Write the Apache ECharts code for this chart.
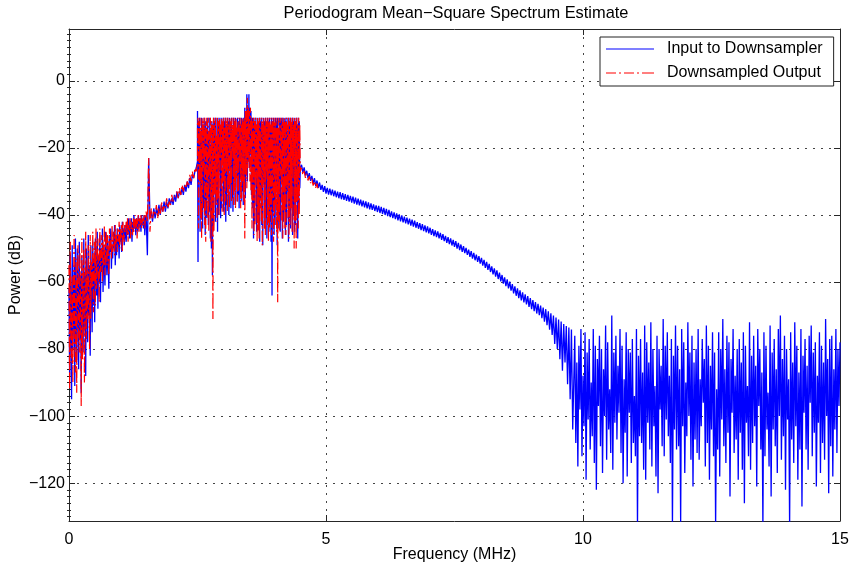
<!DOCTYPE html>
<html><head><meta charset="utf-8">
<script src="https://cdn.jsdelivr.net/npm/echarts@6/dist/echarts.min.js"></script>
<style>html,body{margin:0;padding:0;background:#fff}#c{width:850px;height:568px}</style>
</head><body><div id="c"></div>
<script>
const FONT = "'Liberation Sans', Arial, Helvetica, sans-serif";
const titleText = 'Periodogram Mean\u2212Square Spectrum Estimate';
const xName = 'Frequency (MHz)';
const yName = 'Power (dB)';
const seriesNames = ['Input to Downsampler', 'Downsampled Output'];
const X_MIN = 0, X_MAX = 15, X_STEP = 5;
const Y_MIN = -131.3, Y_MAX = 15.5;
const yTicks = [-120, -100, -80, -60, -40, -20, 0];

// ---- Blue: Input to Downsampler (dB values; each segment = start MHz, step MHz, values) ----
const blueLow = [ // 0 .. 1.5 MHz, step 0.0125
-62,-88,-52,-71,-95,-49,-80,-66,-55,-91,
-47,-72,-84,-50,-63,-86,-48,-77,-58,-93,
-52,-69,-81,-47,-74,-57,-88,-50,-65,-78,
-46,-70,-55,-82,-49,-61,-75,-48,-67,-53,
-72,-47,-58,-64,-45,-68,-52,-60,-46,-66,
-50,-57,-44,-63,-49,-55,-61,-45,-52,-58,
-47,-54,-62,-46,-51,-44,-56,-49,-53,-45,
-50,-43,-55,-47,-52,-44,-49,-46,-53,-43,
-48,-45,-51,-42,-47,-44,-49,-43,-46,-48,
-42,-46,-44,-41,-47,-43,-45,-41,-48,-42,
-45,-40,-44,-42,-46,-41,-43,-45,-40,-44,
-42,-41,-45,-40,-43,-42,-44,-40,-46,-41,
-40];
const blueRise = [ // 1.525 .. 2.5 MHz, step 0.025
-52,-23,-41,-39,-42,-38,-41,-38,-40,-37,
-40,-37,-39,-36,-39,-36,-38,-35,-37,-35,
-37,-34,-36,-33,-35,-33,-34,-32,-34,-31,
-33,-30,-32,-29,-31,-28,-29,-27,-26,-24];
const blueBand = [ // 2.5 .. 4.5 MHz, step 0.01
-9,-54,-12,-28,-11,-45,-16,-40,-11,-35,
-44,-13,-38,-11,-22,-46,-12,-41,-14,-33,
-11,-43,-15,-39,-11,-47,-19,-50,-12,-58,
-13,-44,-11,-30,-12,-42,-11,-36,-17,-45,
-12,-40,-11,-27,-14,-41,-11,-38,-13,-24,
-11,-39,-12,-33,-11,-42,-16,-37,-11,-31,
-12,-40,-11,-25,-13,-38,-11,-35,-15,-39,
-11,-30,-12,-37,-11,-22,-14,-36,-11,-34,
-12,-38,-11,-29,-13,-36,-11,-33,-12,-37,
-11,-31,-8,-35,-9,-27,-4,-30,-8,-24,
-4,-26,-8,-22,-9,-34,-11,-38,-11,-47,
-12,-42,-11,-28,-13,-45,-11,-40,-16,-44,
-11,-48,-12,-35,-11,-43,-14,-49,-11,-30,
-12,-44,-11,-41,-13,-47,-11,-26,-12,-45,
-11,-42,-15,-48,-11,-64,-12,-39,-11,-46,
-13,-43,-11,-31,-12,-49,-11,-44,-14,-40,
-11,-45,-12,-27,-11,-47,-13,-42,-11,-38,
-12,-46,-11,-43,-15,-33,-11,-48,-12,-41,
-11,-44,-13,-29,-11,-46,-12,-40,-11,-45,
-12,-43,-11,-35,-13,-47,-11,-39,-12,-32,
-26];
const blueSlope = [ // 4.525 .. 9.8 MHz, step 0.025
-25.0,-27.3,-25.8,-28.2,-26.8,-29.0,-27.5,-29.8,
-28.3,-30.6,-29.0,-31.3,-29.7,-31.9,-30.3,-32.5,
-31.0,-33.1,-31.4,-33.6,-31.9,-33.9,-32.1,-34.1,
-32.4,-34.4,-32.7,-34.7,-33.0,-35.0,-33.2,-35.3,
-33.5,-35.5,-33.8,-35.8,-34.0,-36.0,-34.3,-36.3,
-34.5,-36.6,-34.8,-36.9,-35.1,-37.1,-35.4,-37.4,
-35.7,-37.7,-35.9,-38.0,-36.2,-38.3,-36.5,-38.5,
-36.8,-38.8,-37.1,-39.1,-37.3,-39.4,-37.6,-39.7,
-37.9,-40.0,-38.2,-40.3,-38.5,-40.6,-38.9,-40.9,
-39.2,-41.2,-39.5,-41.6,-39.8,-41.9,-40.1,-42.2,
-40.5,-42.5,-40.8,-42.8,-41.1,-43.2,-41.4,-43.5,
-41.7,-43.8,-42.1,-44.1,-42.4,-44.5,-42.7,-44.8,
-43.1,-45.2,-43.4,-45.5,-43.8,-45.9,-44.2,-46.3,
-44.6,-46.6,-44.9,-47.0,-45.3,-47.4,-45.7,-47.8,
-46.2,-48.3,-46.6,-48.7,-47.0,-49.1,-47.4,-49.5,
-47.8,-50.0,-48.3,-50.5,-48.8,-51.0,-49.3,-51.4,
-49.8,-51.9,-50.3,-52.5,-50.8,-53.0,-51.3,-53.5,
-51.8,-54.0,-52.3,-54.5,-52.8,-55.1,-53.4,-55.8,
-54.0,-56.4,-54.6,-57.0,-55.3,-57.7,-55.9,-58.4,
-56.5,-59.1,-57.2,-59.8,-57.9,-60.5,-58.6,-61.2,
-59.2,-61.9,-59.9,-62.6,-60.6,-63.4,-61.3,-64.1,
-61.9,-64.8,-62.5,-65.5,-63.1,-66.1,-63.7,-66.7,
-64.2,-67.4,-64.8,-68.1,-65.4,-68.7,-66.0,-69.4,
-66.5,-69.9,-67.0,-70.8,-67.6,-71.8,-68.1,-72.9,
-68.7,-74.2,-69.3,-75.8,-70.0,-78.5,-70.6,-80.0,
-71.2,-83.0,-71.8,-86.5,-72.5,-84.0,-73.1,-90.5,
-73.6,-95.0,-74.2,-104.0];
const blueFloor = [ // 9.84 .. 15.0 MHz, step 0.02
-76,-108,-84,-115,-79,-98,-74,-112,-88,-103,
-75,-119,-81,-101,-77,-110,-90,-106,-74,-114,
-79,-122,-83,-97,-76,-109,-80,-117,-86,-100,
-73,-113,-78,-104,-92,-111,-70,-116,-81,-102,
-76,-107,-85,-99,-74,-111,-79,-120,-89,-105,
-75,-118,-80,-99,-81,-114,-77,-108,-94,-112,
-74,-133,-82,-106,-77,-108,-87,-116,-73,-119,
-78,-102,-84,-110,-72,-115,-80,-103,-91,-118,
-76,-123,-80,-98,-85,-109,-71,-112,-79,-101,
-75,-106,-88,-114,-77,-133,-82,-104,-73,-110,
-79,-109,-86,-132,-74,-103,-78,-117,-90,-106,
-72,-100,-81,-113,-76,-121,-84,-107,-80,-111,
-74,-113,-89,-103,-77,-96,-83,-115,-73,-108,
-79,-119,-85,-104,-75,-112,-81,-133,-92,-110,
-75,-118,-80,-101,-71,-109,-86,-114,-76,-105,
-78,-124,-83,-99,-74,-111,-88,-107,-80,-119,
-77,-105,-84,-116,-75,-126,-79,-102,-91,-112,
-72,-116,-82,-108,-76,-103,-85,-121,-74,-97,
-80,-110,-87,-133,-75,-112,-79,-104,-93,-115,
-73,-124,-81,-104,-77,-109,-86,-117,-74,-100,
-70,-113,-83,-106,-76,-122,-80,-101,-89,-133,
-75,-107,-84,-114,-72,-103,-79,-119,-87,-110,
-74,-127,-82,-99,-77,-110,-85,-116,-76,-96,
-73,-112,-81,-105,-78,-121,-88,-102,-75,-117,
-79,-108,-84,-113,-71,-100,-83,-123,-77,-109,
-76,-118,-86,-104,-74,-111,-80,-97,-78];

// ---- Red: Downsampled Output ----
const redLow = [ // 0 .. 1.5 MHz, step 0.0125
-55,-92,-48,-76,-84,-58,-90,-63,-46,-78,
-87,-53,-93,-60,-49,-75,-81,-51,-68,-97,
-47,-83,-59,-50,-90,-69,-45,-77,-56,-71,
-49,-66,-80,-46,-71,-54,-62,-45,-69,-59,
-48,-67,-44,-62,-55,-47,-59,-66,-44,-57,
-52,-46,-60,-48,-55,-43,-58,-50,-45,-55,
-46,-52,-58,-44,-50,-47,-53,-43,-51,-48,
-45,-52,-43,-49,-46,-51,-44,-48,-42,-50,
-44,-47,-43,-51,-42,-46,-48,-43,-45,-42,
-46,-41,-48,-43,-45,-41,-47,-42,-44,-46,
-41,-45,-42,-40,-44,-41,-47,-42,-40,-45,
-41,-43,-40,-44,-42,-41,-43,-40,-44,-41,
-39];
const redRise = [ // 1.525 .. 2.5 MHz, step 0.025
-42,-23,-45,-38,-41,-39,-40,-37,-41,
-38,-40,-36,-39,-37,-38,-35,-38,-36,-37,
-34,-36,-35,-35,-33,-35,-32,-34,-31,-33,
-31,-32,-30,-31,-28,-30,-27,-29,-26,-27,
-25];
const redBand = [ // 2.5 .. 4.5 MHz, step 0.01
-13,-11,-44,-12,-30,-11,-41,-14,-47,-11,
-39,-12,-26,-11,-43,-13,-48,-11,-36,-12,
-41,-11,-45,-15,-29,-11,-48,-12,-41,-13,
-71,-11,-45,-12,-34,-11,-37,-16,-42,-11,
-35,-12,-40,-11,-23,-13,-36,-11,-39,-12,
-30,-11,-40,-14,-36,-11,-27,-12,-39,-11,
-34,-13,-38,-11,-31,-12,-36,-11,-21,-13,
-37,-11,-33,-12,-38,-11,-29,-14,-36,-11,
-33,-12,-24,-11,-38,-13,-35,-11,-30,-12,
-36,-11,-47,-9,-28,-8,-32,-5,-26,-8,
-24,-9,-30,-8,-33,-11,-44,-12,-36,-11,
-46,-12,-43,-11,-29,-13,-48,-11,-45,-12,
-47,-11,-38,-14,-42,-11,-49,-12,-31,-11,
-44,-13,-46,-11,-27,-12,-43,-11,-48,-12,
-44,-11,-40,-13,-46,-11,-35,-12,-48,-11,
-43,-12,-37,-11,-45,-14,-66,-11,-42,-12,
-45,-11,-28,-13,-42,-11,-47,-12,-39,-11,
-44,-12,-46,-11,-32,-13,-41,-11,-47,-12,
-43,-11,-38,-12,-45,-11,-26,-13,-50,-11,
-42,-12,-50,-11,-36,-13,-44,-11,-40,-13,
-27];
const redTail = [ // 4.525 .. 4.85 MHz, step 0.025
-26.0,-28.0,-26.8,-28.9,-27.7,-29.7,-28.4,-30.5,-29.2,-31.2,-29.9,-31.9,-30.6,-32.6];

const blueSegments = [[0, 0.0125, blueLow], [1.525, 0.025, blueRise], [2.5, 0.01, blueBand],
                      [4.525, 0.025, blueSlope], [9.84, 0.02, blueFloor]];
const redSegments = [[0, 0.0125, redLow], [1.525, 0.025, redRise], [2.5, 0.01, redBand], [4.525, 0.025, redTail]];

function build(segs) {
  const out = [];
  segs.forEach(([f0, df, vals]) => vals.forEach((v, i) => out.push([+(f0 + i * df).toFixed(4), v])));
  return out;
}
const yMinor = [];
for (let v = -130; v <= 14; v += 2) if (v % 20 !== 0) yMinor.push(v);

const AX = '#262626';
const chart = echarts.init(document.getElementById('c'));
const fmtY = v => (v < 0 ? '\u2212' + Math.abs(v) : String(v));
const yBase = (pos) => ({ type: 'value', min: Y_MIN, max: Y_MAX, position: pos, splitLine: { show: false }, axisLabel: { show: false } });

chart.setOption({
  animation: false,
  graphic: [{ type: 'text', x: 456, y: 13, silent: true,
    style: { text: titleText, align: 'center', verticalAlign: 'middle', font: '16.4px ' + FONT, fill: '#000' } }],
  legend: {
    left: 600, top: 37, orient: 'vertical', padding: [4, 11, 5, 6], itemGap: 8,
    itemWidth: 48, itemHeight: 1, backgroundColor: '#fff', borderColor: '#222', borderWidth: 1, borderRadius: 0,
    selectedMode: false,
    textStyle: { fontSize: 16, color: '#000', fontFamily: FONT, padding: [0, 0, 0, 8] },
    data: [
      { name: seriesNames[0], icon: 'path://M0,0H48V1H0Z' },
      { name: seriesNames[1], icon: 'path://M0,0H10V1H0Z M13,0H15V1H13Z M18,0H28V1H18Z M31,0H33V1H31Z M36,0H48V1H36Z' }
    ]
  },
  grid: { left: 69, right: 10, top: 29, bottom: 47, containLabel: false, outerBoundsMode: 'none' },
  xAxis: [
    { type: 'value', min: X_MIN, max: X_MAX, interval: X_STEP, position: 'bottom',
      axisLine: { show: true, onZero: false, lineStyle: { color: AX } },
      axisTick: { show: true, inside: true, length: 6, lineStyle: { color: AX } },
      axisLabel: { fontSize: 16, color: '#000', fontFamily: FONT, margin: 11 },
      splitLine: { show: true, lineStyle: { type: [2, 6], color: '#444' } },
      name: xName, nameLocation: 'middle', nameGap: 26, nameMoveOverlap: false,
      nameTextStyle: { fontSize: 16, color: '#000', fontFamily: FONT } },
    { type: 'value', min: X_MIN, max: X_MAX, interval: X_STEP, position: 'top',
      axisLine: { show: true, onZero: false, lineStyle: { color: AX } },
      axisTick: { show: true, inside: true, length: 6, lineStyle: { color: AX } },
      axisLabel: { show: false }, splitLine: { show: false } }
  ],
  yAxis: [
    { type: 'value', min: Y_MIN, max: Y_MAX, position: 'left',
      axisLine: { show: true, onZero: false, lineStyle: { color: AX } },
      axisTick: { show: true, inside: true, length: 6, customValues: yTicks, lineStyle: { color: AX } },
      axisLabel: { customValues: yTicks, formatter: fmtY, fontSize: 16, color: '#000', fontFamily: FONT, margin: 4 },
      splitLine: { show: true, lineStyle: { type: [2, 6], color: '#444' } },
      name: yName, nameLocation: 'middle', nameGap: 45, nameMoveOverlap: false,
      nameTextStyle: { fontSize: 16, color: '#000', fontFamily: FONT } },
    Object.assign(yBase('left'), { axisLine: { show: false },
      axisTick: { show: true, inside: true, length: 2, customValues: yMinor, lineStyle: { color: AX } } }),
    Object.assign(yBase('right'), { axisLine: { show: true, onZero: false, lineStyle: { color: AX } },
      axisTick: { show: true, inside: true, length: 6, customValues: yTicks, lineStyle: { color: AX } } }),
    Object.assign(yBase('right'), { axisLine: { show: false },
      axisTick: { show: true, inside: true, length: 2, customValues: yMinor, lineStyle: { color: AX } } })
  ],
  series: [
    { name: seriesNames[0], type: 'line', data: build(blueSegments), symbol: 'none', showSymbol: false,
      xAxisIndex: 0, yAxisIndex: 0, silent: true, emphasis: { disabled: true }, z: 2,
      lineStyle: { color: '#0000ff', width: 1.3 }, itemStyle: { color: '#0000ff' } },
    { name: seriesNames[1], type: 'line', data: build(redSegments), symbol: 'none', showSymbol: false,
      xAxisIndex: 0, yAxisIndex: 0, silent: true, emphasis: { disabled: true }, z: 3,
      lineStyle: { color: '#ff0000', width: 1.2, type: [10, 3, 2, 3] }, itemStyle: { color: '#ff0000' } }
  ]
});
</script></body></html>
